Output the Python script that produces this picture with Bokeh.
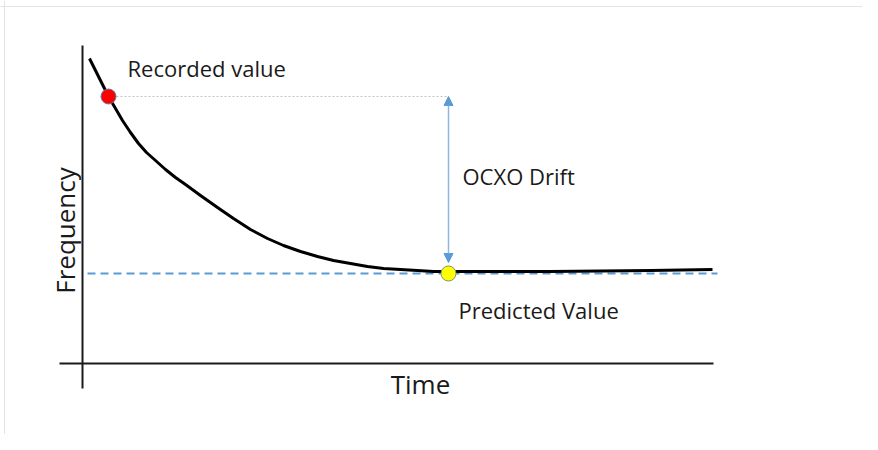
from bokeh.plotting import figure
from bokeh.models import Range1d, Arrow, NormalHead, ColumnDataSource, Span
from bokeh.core.properties import value
from bokeh.embed import file_html
from bokeh.resources import INLINE

# ---- data (time units / frequency units) ----
curve_time = [7, 13, 18, 26, 33, 40, 48, 56, 64, 73, 83, 93, 103, 118, 135, 151, 168, 185,
              201, 218, 235, 251, 268, 285, 301, 318, 335, 351, 366, 468, 568, 630]
curve_freq = [305, 293, 283, 267, 255, 243, 231, 220, 211, 203, 194, 186, 179, 168, 156, 145, 134, 125,
              118, 112, 107, 103, 100, 97, 95, 94, 93, 92, 92, 92, 93, 94]

recorded_time = [26]
recorded_freq = [267]
predicted_time = [366]
predicted_freq = [90]

predicted_line_time = [5, 635]
predicted_line_freq = [90, 90]
recorded_line_time = [26, 366]
recorded_line_freq = [267, 267]

drift_time = 366
drift_top = 267
drift_bottom = 101

xaxis_time = [-23, 631]
xaxis_freq = [0, 0]
yaxis_time = [0, 0]
yaxis_freq = [-25, 318]

label_texts = ["Recorded value", "OCXO Drift", "Predicted Value"]
label_time = [45, 380, 376]
label_freq = [296, 188, 54]

xlabel_text = "Time"
xlabel_time = 338
xlabel_freq = -20
ylabel_text = "Frequency"
ylabel_time = -18
ylabel_freq = 133

FONT = "Open Sans"
TXT = "#1a1a1a"
BLUE = "#5b9bd5"

p = figure(width=862, height=434, output_backend="svg", toolbar_location=None,
           x_range=Range1d(-82, 780), y_range=Range1d(-71, 363),
           min_border=0, min_border_left=0, min_border_right=0,
           min_border_top=0, min_border_bottom=0)
p.axis.visible = False
p.grid.visible = False
p.outline_line_color = None
p.background_fill_color = "white"
p.border_fill_color = "white"

# faint page border (top and left only)
p.add_layout(Span(location=357, dimension="width", line_color="#e3e3e3", line_width=1))
p.add_layout(Span(location=-78, dimension="height", line_color="#e3e3e3", line_width=1))

# axes drawn as lines
p.line(xaxis_time, xaxis_freq, line_color="#1a1a1a", line_width=2)
p.line(yaxis_time, yaxis_freq, line_color="#1a1a1a", line_width=2)

# reference lines
p.line(predicted_line_time, predicted_line_freq, line_color=BLUE, line_width=2, line_dash="8 5")
p.line(recorded_line_time, recorded_line_freq, line_color="#c4c4c4", line_width=1, line_dash="2 2")

# curve
p.line(curve_time, curve_freq, line_color="black", line_width=3, line_join="round")

# drift arrow
p.add_layout(Arrow(
    start=NormalHead(size=9, fill_color=BLUE, line_color=BLUE, line_width=1),
    end=NormalHead(size=9, fill_color=BLUE, line_color=BLUE, line_width=1),
    x_start=drift_time, y_start=drift_top, x_end=drift_time, y_end=drift_bottom,
    line_color="#8db6e2", line_width=1.5))

# points
p.scatter(recorded_time, recorded_freq, size=15, fill_color="#ff0000", line_color="#5f7fa5", line_width=1)
p.scatter(predicted_time, predicted_freq, size=15, fill_color="#ffff00", line_color="#7f9070", line_width=1)

# labels
src = ColumnDataSource(dict(x=label_time, y=label_freq, t=label_texts))
p.text(x="x", y="y", text="t", source=src, text_font=value(FONT), text_font_size="22px",
       text_color=TXT, text_align="left", text_baseline="middle")
p.text(x=[xlabel_time], y=[xlabel_freq], text=[xlabel_text], text_font=value(FONT),
       text_font_size="26px", text_color=TXT, text_align="center", text_baseline="middle")
p.text(x=[ylabel_time], y=[ylabel_freq], text=[ylabel_text], text_font=value(FONT),
       text_font_size="26px", text_color=TXT, text_align="center", text_baseline="middle",
       angle=1.5707963)

open("out.html", "w").write(file_html(p, INLINE))
